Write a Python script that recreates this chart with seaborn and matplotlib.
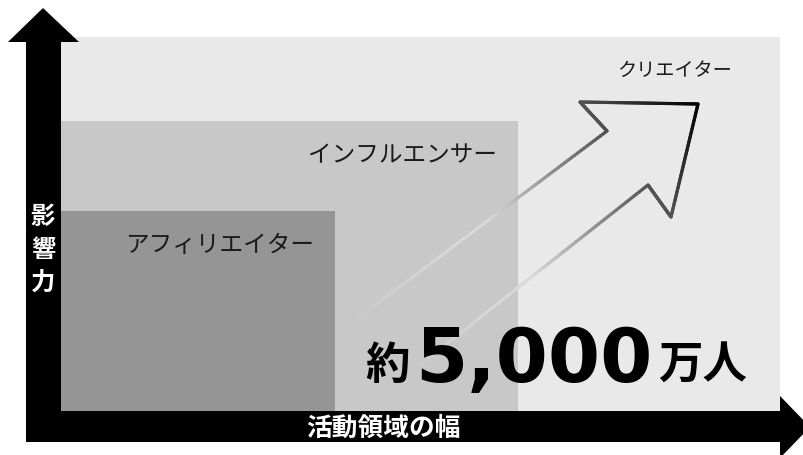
import numpy as np
import matplotlib
matplotlib.use("Agg")
import matplotlib.pyplot as plt
from matplotlib.collections import LineCollection
from matplotlib.patches import Polygon
import seaborn as sns

# --- data -----------------------------------------------------------------
categories = ["アフィリエイター", "インフルエンサー", "クリエイター"]
activity_range = [38.1, 63.6, 100.0]   # 活動領域の幅 (% of axis)
influence = [53.5, 77.5, 100.0]        # 影響力 (% of axis)
creator_population = 5000              # 万人
x_axis_label = "活動領域の幅"
y_axis_label = "影響力"

# --- style ----------------------------------------------------------------
shades = ["#959595", "#c8c8c8", "#e9e9e9"]
label_sizes = [17, 17, 13.8]
label_offsets = [(-16.1, -9.1), (-16.1, -9.1), (-14.7, -8.8)]

sns.set_theme(style="white")
plt.rcParams["font.family"] = ["Noto Sans CJK JP", "DejaVu Sans"]

W, H = 804, 456
fig = plt.figure(figsize=(W / 100, H / 100), dpi=100)
fig.patch.set_facecolor("white")

# plot area: nested rectangles, one per category
ax = fig.add_axes([61 / W, 44 / H, 719 / W, 374 / H])
ax.set_xlim(0, 100)
ax.set_ylim(0, 100)
ax.axis("off")

order = sorted(range(len(categories)), key=lambda k: -activity_range[k])
for i in order:
    ax.bar(0, influence[i], width=activity_range[i], align="edge",
           color=shades[i], linewidth=0)
for i in order:
    dx, dy = label_offsets[i]
    ax.text(activity_range[i] + dx, influence[i] + dy, categories[i],
            ha="center", va="center", fontsize=label_sizes[i], color="#1a1a1a")

# overlay in pixel units for the axis arrows, growth arrow and headline
deco = fig.add_axes([0, 0, 1, 1], zorder=5)
deco.set_xlim(0, W)
deco.set_ylim(H, 0)
deco.axis("off")
deco.patch.set_alpha(0)

v_arrow = [(26, 443), (26, 43), (8, 43), (43, 9), (79, 43), (61, 43), (61, 443)]
h_arrow = [(26, 412), (780, 412), (780, 397), (810, 428), (780, 459), (780, 443), (26, 443)]
for pts in (v_arrow, h_arrow):
    deco.add_patch(Polygon(pts, closed=True, facecolor="black", edgecolor="none"))

for j, ch in enumerate(y_axis_label):
    deco.text(43, 217 + 33 * j, ch, ha="center", va="center", color="white",
              fontsize=17.5, fontweight="bold")
deco.text(383, 428, x_axis_label, ha="center", va="center", color="white",
          fontsize=18.5, fontweight="bold")

# hollow growth arrow with a fade from the lower left
outline = np.array([(350, 325), (607, 132), (580, 103), (698, 105),
                    (671, 218), (648, 186), (420, 366)], dtype=float)
dense = [outline[0]]
for a, b in zip(outline[:-1], outline[1:]):
    for s in np.linspace(0, 1, 80)[1:]:
        dense.append(a + (b - a) * s)
dense = np.array(dense)
segs = np.stack([dense[:-1], dense[1:]], axis=1)
mid = segs.mean(axis=1)
direction = np.array([0.784, -0.620])
t = mid @ direction
gray = np.clip(0.0036 * (482 - t), 0, 0.85)
alpha = np.clip((t - 70) / 170, 0, 1)
colors = np.column_stack([gray, gray, gray, alpha])
deco.add_collection(LineCollection(segs, colors=colors, linewidths=2.3,
                                   capstyle="round", joinstyle="round", zorder=2))

# headline figure
deco.text(365, 379, "約", ha="left", va="baseline", fontsize=32,
          fontweight="bold", color="black", zorder=4)
deco.text(415, 382, f"{creator_population:,}", ha="left", va="baseline",
          fontsize=54, fontweight="bold", family="DejaVu Sans", color="black", zorder=4)
deco.text(658, 379, "万人", ha="left", va="baseline", fontsize=32,
          fontweight="bold", color="black", zorder=4)

fig.savefig("out.png", dpi=100, facecolor="white")
